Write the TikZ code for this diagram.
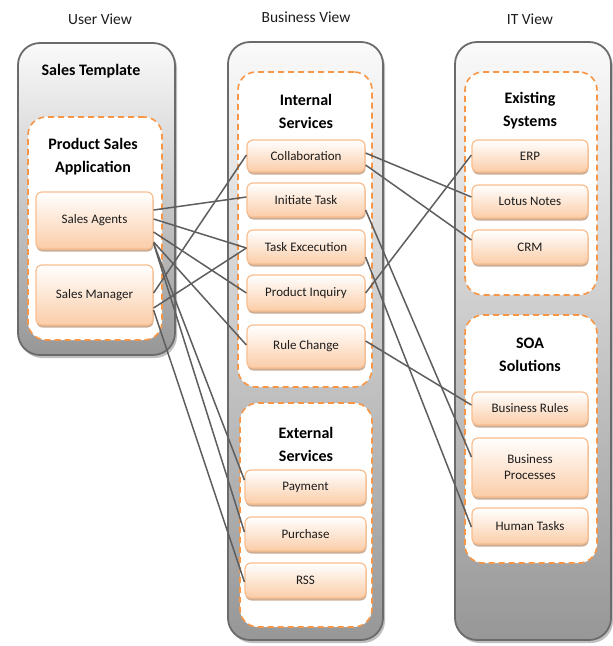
\documentclass[tikz,border=0pt]{standalone}
\usepackage{fontspec}
\setmainfont{Carlito}
\usetikzlibrary{shadows}
\definecolor{dashor}{HTML}{F79646}
\definecolor{boxline}{HTML}{F9BE8F}
\definecolor{boxbot}{HTML}{FBCDA8}
\definecolor{outline}{HTML}{6B6B6B}
\definecolor{outtop}{HTML}{FAFAFA}
\definecolor{outbot}{HTML}{979797}
\definecolor{conncol}{HTML}{5E5E5E}
\definecolor{txt}{HTML}{1C1C1C}
\begin{document}
\begin{tikzpicture}[x=1pt,y=-1pt,
 outerbox/.style={draw=outline, line width=1.8pt, rounded corners=22pt, top color=outtop, bottom color=outbot,
   drop shadow={shadow xshift=2pt, shadow yshift=-3pt, fill=black, opacity=0.25}, inner sep=0pt},
 groupbox/.style={draw=dashor, line width=1.6pt, dash pattern=on 6pt off 4pt, rounded corners=18pt, fill=white, inner sep=0pt},
 svc/.style={draw=boxline, line width=1.2pt, rounded corners=6pt, top color=white, bottom color=boxbot,
   drop shadow={shadow xshift=0.5pt, shadow yshift=-2.5pt, fill={rgb,255:red,170;green,120;blue,80}, opacity=0.6},
   inner sep=0pt, font=\fontsize{13}{16}\selectfont, text=txt, align=center},
 ttl/.style={font=\bfseries\fontsize{16}{23}\selectfont, align=center, text=black},
 hdr/.style={font=\fontsize{15.5}{18}\selectfont, text=txt},
 link/.style={draw=conncol, line width=1.5pt}
]
\useasboundingbox (0,0) rectangle (613,646);

% headers
\node[hdr] (h1) at (100,19) {User View};
\node[hdr] (h2) at (306,17) {Business View};
\node[hdr] (h3) at (530,19) {IT View};

% outer containers
\node[outerbox, minimum width=157pt, minimum height=312pt] (uv) at (96.5,199) {};
\node[outerbox, minimum width=155pt, minimum height=598pt] (bv) at (305.5,341) {};
\node[outerbox, minimum width=156pt, minimum height=598pt] (iv) at (533,341) {};

\node[ttl] (st) at (91,71) {Sales Template};

% dashed groups
\node[groupbox, minimum width=134pt, minimum height=223pt] (psa) at (95,228.5) {};
\node[groupbox, minimum width=134pt, minimum height=315pt] (ints) at (305,229.5) {};
\node[groupbox, minimum width=132pt, minimum height=224pt] (exts) at (306,515) {};
\node[groupbox, minimum width=132pt, minimum height=223pt] (exs) at (531,183.5) {};
\node[groupbox, minimum width=132pt, minimum height=248pt] (soa) at (531,439) {};

\node[ttl] (tpsa) at (93,157) {Product Sales\\Application};
\node[ttl] (tint) at (306,111) {Internal\\Services};
\node[ttl] (text) at (306,444) {External\\Services};
\node[ttl] (texs) at (530,111) {Existing\\Systems};
\node[ttl] (tsoa) at (530,355) {SOA\\Solutions};

% services
\node[svc, minimum width=117pt, minimum height=57pt] (sa) at (94.5,220.5) {Sales Agents};
\node[svc, minimum width=117pt, minimum height=60pt] (sm) at (94.5,295) {Sales Manager};

\node[svc, minimum width=118pt, minimum height=32pt] (collab) at (306,156) {Collaboration};
\node[svc, minimum width=118pt, minimum height=34pt] (init) at (306,200) {Initiate Task};
\node[svc, minimum width=118pt, minimum height=34pt] (texe) at (306,247) {Task Excecution};
\node[svc, minimum width=118pt, minimum height=36pt] (pinq) at (306,293) {Product Inquiry};
\node[svc, minimum width=118pt, minimum height=43pt] (rule) at (306,346.5) {Rule Change};

\node[svc, minimum width=121pt, minimum height=34pt] (pay) at (305.5,487) {Payment};
\node[svc, minimum width=121pt, minimum height=34pt] (pur) at (305.5,534) {Purchase};
\node[svc, minimum width=121pt, minimum height=35pt] (rss) at (305.5,580.5) {RSS};

\node[svc, minimum width=116pt, minimum height=32pt] (erp) at (530,156) {ERP};
\node[svc, minimum width=116pt, minimum height=33pt] (lotus) at (530,201.5) {Lotus Notes};
\node[svc, minimum width=116pt, minimum height=34pt] (crm) at (530,247) {CRM};

\node[svc, minimum width=116pt, minimum height=33pt] (brules) at (530,408.5) {Business Rules};
\node[svc, minimum width=116pt, minimum height=59pt] (bproc) at (530,467.5) {Business\\Processes};
\node[svc, minimum width=116pt, minimum height=36pt] (htask) at (530,526) {Human Tasks};

% connectors
\draw[link] ([yshift=10.5pt]sa.east) -- ([yshift=3pt]init.west);
\draw[link] ([yshift=1.5pt]sa.east) -- ([yshift=-1pt]texe.west);
\draw[link] ([yshift=-11.5pt]sa.east) -- (pinq.west);
\draw[link] ([yshift=-21.5pt]sa.east) -- ([yshift=1.5pt]rule.west);
\draw[link] ([yshift=-23pt]sa.east) -- ([yshift=7pt]pay.west);
\draw[link] ([yshift=-23pt]sa.east) -- ([yshift=2pt]pur.west);
\draw[link] ([yshift=2pt]sm.east) -- ([yshift=1pt]collab.west);
\draw[link] ([yshift=-13pt]sm.east) -- ([yshift=-1pt]texe.west);
\draw[link] ([yshift=-15pt]sm.east) -- ([yshift=-1.5pt]rss.west);

\draw[link] ([yshift=3pt]collab.east) -- ([yshift=4.5pt]lotus.west);
\draw[link] ([yshift=-9pt]collab.east) -- ([yshift=7pt]crm.west);
\draw[link] ([yshift=-10pt]init.east) -- ([yshift=10.5pt]bproc.west);
\draw[link] ([yshift=-10pt]texe.east) -- ([yshift=-1pt]htask.west);
\draw[link] (pinq.east) -- ([yshift=1pt]erp.west);
\draw[link] ([yshift=5.5pt]rule.east) -- ([yshift=3.5pt]brules.west);
\end{tikzpicture}
\end{document}
